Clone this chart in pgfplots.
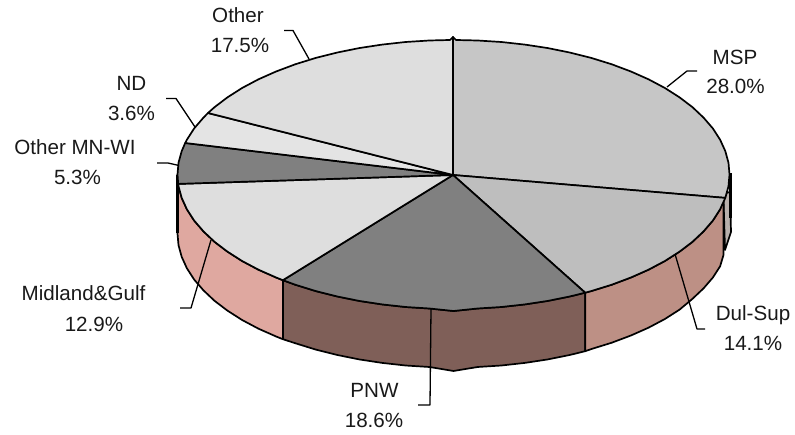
\documentclass[border=0pt]{standalone}
\usepackage{pgfplots}
\usepackage{fontspec}
\setmainfont{Liberation Sans}
\pgfplotsset{compat=1.18}
\definecolor{cMSP}{HTML}{C6C6C6}
\definecolor{cDul}{HTML}{BEBEBE}
\definecolor{cPNW}{HTML}{808080}
\definecolor{cMid}{HTML}{DEDEDE}
\definecolor{cOMN}{HTML}{808080}
\definecolor{cND}{HTML}{E4E4E4}
\definecolor{cOth}{HTML}{DEDEDE}
\definecolor{rMid}{HTML}{DFA8A0}
\definecolor{rPNW}{HTML}{7F5F58}
\definecolor{rDul}{HTML}{BD9085}
\definecolor{rMSP}{HTML}{B8B0AC}
\tikzset{lab/.style={anchor=base,font=\fontsize{20.6}{24}\selectfont,text=black!90,inner sep=0pt}}
\begin{document}
\begin{tikzpicture}
\path[use as bounding box] (0,0) rectangle (795pt,435pt);
\begin{axis}[
  at={(0,0)},anchor=south west,
  width=795pt,height=435pt,scale only axis,
  xmin=0,xmax=795,ymin=0,ymax=435,y dir=reverse,
  axis lines=none,clip=false,
  every axis plot/.append style={mark=none,line join=round},
]
% rims
\addplot[fill=rMid,draw=black,line width=1.7pt] coordinates {(177.5,174.5)(178.5,186.2)(181.7,197.9)(186.9,209.3)(194.1,220.5)(203.4,231.3)(214.5,241.8)(227.4,251.6)(242.1,261)(258.3,269.6)(276.1,277.5)(282.9,280.2)(282.9,339.2)(276.1,336.5)(258.3,328.6)(242.1,320)(227.4,310.6)(214.5,300.8)(203.4,290.3)(194.1,279.5)(186.9,268.3)(181.7,256.9)(178.5,245.2)(177.5,233.5)} --cycle;
\addplot[fill=rPNW,draw=black,line width=1.7pt] coordinates {(282.9,280.2)(295.2,284.7)(315.5,291)(336.9,296.4)(359.1,300.9)(382.1,304.4)(405.6,307)(429.4,308.5)(453.5,311)(477.6,308.5)(501.4,307)(524.9,304.4)(547.9,300.9)(570.1,296.4)(585.2,292.7)(585.2,351.2)(570.1,354.9)(547.9,359.4)(524.9,362.9)(501.4,365.5)(477.6,367)(453.5,371)(429.4,367)(405.6,365.5)(382.1,362.9)(359.1,359.4)(336.9,354.9)(315.5,349.5)(295.2,343.2)(282.9,339.2)} --cycle;
\addplot[fill=rMSP,draw=black,line width=1.7pt] coordinates {(723.5,199)(726,193)(730,192)(731,232)(725,250)} --cycle;
\addplot[fill=rDul,draw=black,line width=1.7pt] coordinates {(585.2,292.7)(591.5,291)(611.8,284.7)(630.9,277.5)(648.7,269.6)(664.9,261)(679.6,251.6)(692.5,241.8)(703.6,231.3)(712.9,220.5)(720.1,209.3)(723.5,198)(723.5,255)(720.1,266.3)(712.9,277.5)(703.6,288.3)(692.5,298.8)(679.6,309.6)(664.9,319)(648.7,327.6)(630.9,335.5)(611.8,342.7)(591.5,349)(585.2,351.2)} --cycle;
\addplot[draw=black,line width=3pt] coordinates {(177,175)(177,233)};
\addplot[draw=black,line width=3pt] coordinates {(730,173)(730,218)};
% top
\addplot[fill=cMSP,draw=black,line width=1.7pt] coordinates {(453,175)(453,37)(456,40)(477.6,40.5)(501.4,42)(524.9,44.6)(547.9,48.1)(570.1,52.6)(591.5,58)(611.8,64.3)(630.9,71.5)(648.7,79.4)(664.9,88)(679.6,97.4)(692.5,107.2)(703.6,117.7)(712.9,128.5)(720.1,139.7)(725.3,151.1)(728.5,162.8)(729.5,174.5)(728.5,186.2)(725.3,197.9)} --cycle;
\addplot[fill=cDul,draw=black,line width=1.7pt] coordinates {(453,175)(725.3,197.9)(720.1,209.3)(712.9,220.5)(703.6,231.3)(692.5,241.8)(679.6,251.6)(664.9,261)(648.7,269.6)(630.9,277.5)(611.8,284.7)(591.5,291)(585.2,292.7)} --cycle;
\addplot[fill=cPNW,draw=black,line width=1.7pt] coordinates {(453,175)(585.2,292.7)(570.1,296.4)(547.9,300.9)(524.9,304.4)(501.4,307)(477.6,308.5)(453.5,311)(429.4,308.5)(405.6,307)(382.1,304.4)(359.1,300.9)(336.9,296.4)(315.5,291)(295.2,284.7)(282.9,280.2)} --cycle;
\addplot[fill=cMid,draw=black,line width=1.7pt] coordinates {(453,175)(282.9,280.2)(276.1,277.5)(258.3,269.6)(242.1,261)(227.4,251.6)(214.5,241.8)(203.4,231.3)(194.1,220.5)(186.9,209.3)(181.7,197.9)(178.5,186.2)(178.2,183.9)} --cycle;
\addplot[fill=cOMN,draw=black,line width=1.7pt] coordinates {(453,175)(178.2,183.9)(177.5,174.5)(178.5,162.8)(181.7,151.1)(185.2,143)} --cycle;
\addplot[fill=cND,draw=black,line width=1.7pt] coordinates {(453,175)(185.2,143)(186.9,139.7)(194.1,128.5)(203.4,117.7)(208,113)} --cycle;
\addplot[fill=cOth,draw=black,line width=1.7pt] coordinates {(453,175)(208,113)(214.5,107.2)(227.4,97.4)(242.1,88)(258.3,79.4)(276.1,71.5)(295.2,64.3)(315.5,58)(336.9,52.6)(359.1,48.1)(382.1,44.6)(405.6,42)(429.4,40.5)(450,40)(453,37)} --cycle;
% leaders
\addplot[draw=black,line width=1.3pt] coordinates {(284,30.5)(293,30.5)(309,59)};
\addplot[draw=black,line width=1.3pt] coordinates {(697,71)(687,71)(667,87)};
\addplot[draw=black,line width=1.3pt] coordinates {(166,98.5)(176,98.5)(195,127)};
\addplot[draw=black,line width=1.3pt] coordinates {(157,163)(168,163)(179,165.5)};
\addplot[draw=black,line width=1.3pt] coordinates {(180,308)(191,308)(211,240)};
\addplot[draw=black,line width=1.3pt] coordinates {(418,405)(430,405)(431,309)};
\addplot[draw=black,line width=1.3pt] coordinates {(705,329)(697,329)(675,254)};
% labels
\node[lab] at (axis cs:238,23) {Other};
\node[lab] at (axis cs:240,53) {17.5\%};
\node[lab] at (axis cs:735,65) {MSP};
\node[lab] at (axis cs:735.5,93.5) {28.0\%};
\node[lab] at (axis cs:131.5,91) {ND};
\node[lab] at (axis cs:131.5,121) {3.6\%};
\node[lab] at (axis cs:75,155) {Other MN-WI};
\node[lab] at (axis cs:77.5,185) {5.3\%};
\node[lab] at (axis cs:83.5,301) {Midland\&Gulf};
\node[lab] at (axis cs:94,332) {12.9\%};
\node[lab] at (axis cs:374.5,397) {PNW};
\node[lab] at (axis cs:374,427) {18.6\%};
\node[lab] at (axis cs:753,321) {Dul-Sup};
\node[lab] at (axis cs:753,351) {14.1\%};
\end{axis}
\end{tikzpicture}
\end{document}
